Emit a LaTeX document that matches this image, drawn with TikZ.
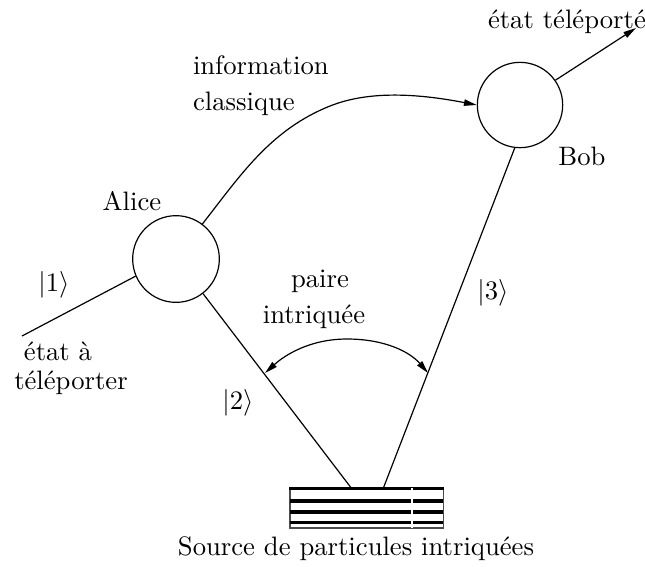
\documentclass[tikz,border=0pt]{standalone}
\usetikzlibrary{arrows.meta}
\begin{document}
\begin{tikzpicture}[x=0.375pt,y=-0.375pt,
  lbl/.style={inner sep=0pt,outer sep=0pt,font=\fontsize{10}{12}\selectfont},
  party/.style={circle,draw,line width=0.45pt,minimum size=#1,inner sep=0pt},
  conn/.style={line width=0.45pt},
  tip/.style={-{Triangle[length=4.8pt,width=2.4pt]}},
  thickbar/.style={line width=1.25pt}]
\useasboundingbox (0,0) rectangle (645,566);
% parties
\node[party=32.5pt] (alice) at (176,259) {};
\node[party=32pt] (bob) at (520,105) {};
% coordinates
\coordinate (in1) at (22,336);
\coordinate (srcA) at (352,489);
\coordinate (srcB) at (383,489);
\coordinate (out) at (636,28);
\coordinate (pL) at (265,373);
\coordinate (pR) at (428,373);
% connectors
\draw[conn] (in1) -- (alice.203);
\draw[conn] (alice.-52) -- (srcA);
\draw[conn] (bob.-97) -- (srcB);
\draw[conn,tip] (alice.53) .. controls (240,176) and (270,130) .. (330,106)
   .. controls (370,90) and (420,94) .. (bob.west);
\draw[conn,tip] (bob.35) -- (out);
\draw[conn,tip] (347,339) .. controls (310,339) and (285,355) .. (pL);
\draw[conn,tip] (347,339) .. controls (385,339) and (410,352) .. (pR);
% source
\node[draw=black!70,line width=0.4pt,minimum width=57.4pt,minimum height=14.6pt,inner sep=0pt] (src) at (366.5,508.5) {};
\draw[thickbar] (src.north west) -- (src.north east);
\draw[thickbar] (290,501) -- (443,501);
\draw[thickbar] (290,512) -- (443,512);
\draw[thickbar] (290,522.5) -- (443,522.5);
\draw[white,line width=0.4pt] (412,488) -- (412,528);
% labels
\node[lbl,anchor=base west] (t1) at (193,74) {information};
\node[lbl,anchor=base west] (t2) at (193,110) {classique};
\node[lbl,anchor=base] (t3) at (132,210) {Alice};
\node[lbl,anchor=base] (t4) at (582,165) {Bob};
\node[lbl,anchor=center] (t5) at (54,285) {$|1\rangle$};
\node[lbl,anchor=base] (t6) at (58,360) {état à};
\node[lbl,anchor=base] (t7) at (71,389) {téléporter};
\node[lbl,anchor=base] (t8) at (320,287) {paire};
\node[lbl,anchor=base] (t9) at (314,323) {intriquée};
\node[lbl,anchor=center] (t10) at (238,403) {$|2\rangle$};
\node[lbl,anchor=center] (t11) at (493,293) {$|3\rangle$};
\node[lbl,anchor=base west] (t12) at (488,28) {état téléporté};
\node[lbl,anchor=base] (t13) at (356,555) {Source de particules intriquées};
\end{tikzpicture}
\end{document}
